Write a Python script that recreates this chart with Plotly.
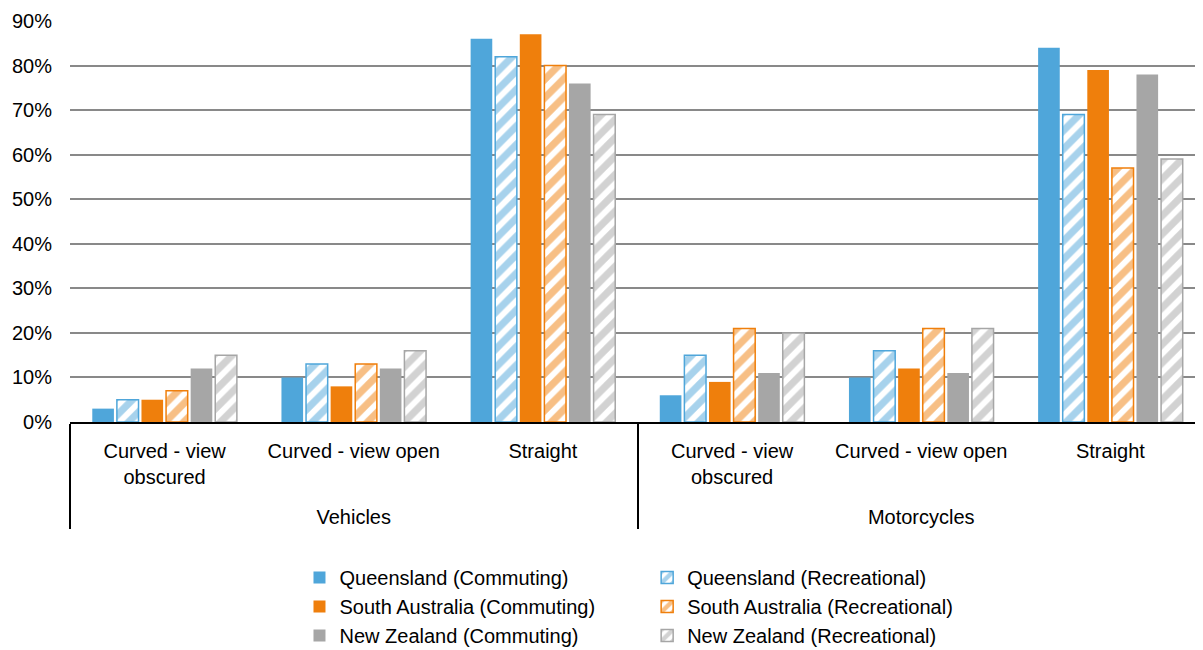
import plotly.graph_objects as go

road_type = ["Vehicles"] * 3 + ["Motorcycles"] * 3
# third line (non-breaking space) keeps the outer labels lower, as in the original
road_shape = ["Curved - view<br>obscured<br>&nbsp;",
              "Curved - view open<br>&nbsp;<br>&nbsp;",
              "Straight<br>&nbsp;<br>&nbsp;"] * 2

series_names = [
    "Queensland (Commuting)", "Queensland (Recreational)",
    "South Australia (Commuting)", "South Australia (Recreational)",
    "New Zealand (Commuting)", "New Zealand (Recreational)",
]
qld_commuting = [0.03, 0.10, 0.86, 0.06, 0.10, 0.84]
qld_recreational = [0.05, 0.13, 0.82, 0.15, 0.16, 0.69]
sa_commuting = [0.05, 0.08, 0.87, 0.09, 0.12, 0.79]
sa_recreational = [0.07, 0.13, 0.80, 0.21, 0.21, 0.57]
nz_commuting = [0.12, 0.12, 0.76, 0.11, 0.11, 0.78]
nz_recreational = [0.15, 0.16, 0.69, 0.20, 0.21, 0.59]

series_values = [qld_commuting, qld_recreational, sa_commuting,
                 sa_recreational, nz_commuting, nz_recreational]
colors = ["#4FA6DA", "#4FA6DA", "#EF7F0C", "#EF7F0C", "#A6A6A6", "#A6A6A6"]
font = dict(family="Liberation Sans, Arial, sans-serif", size=20, color="#000000")

fig = go.Figure()
for i, (name, vals) in enumerate(zip(series_names, series_values)):
    hatched = i % 2 == 1
    if hatched:
        marker = dict(
            color="white",
            line=dict(color=colors[i], width=1.5),
            pattern=dict(shape="/", fgcolor=colors[i], bgcolor="white",
                         size=13, solidity=0.55, fillmode="overlay"),
        )
    else:
        marker = dict(color=colors[i], line=dict(width=0))
    fig.add_trace(go.Bar(
        x=[road_type, road_shape], y=vals, name=name, marker=marker,
        legend="legend2" if hatched else "legend",
    ))

fig.update_layout(
    width=1203, height=650,
    margin=dict(l=62, r=6, t=13, b=236, autoexpand=False),
    paper_bgcolor="white", plot_bgcolor="white",
    font=font,
    barmode="group", bargap=0.22, bargroupgap=0.12,
    legend=dict(x=0.2423, xref="container", y=0.154, yref="container",
                yanchor="top", xanchor="left", font=font, tracegroupgap=5,
                bgcolor="rgba(0,0,0,0)"),
    legend2=dict(x=0.5313, xref="container", y=0.154, yref="container",
                 yanchor="top", xanchor="left", font=font, tracegroupgap=5,
                 bgcolor="rgba(0,0,0,0)"),
)
fig.update_yaxes(
    range=[0, 0.9], dtick=0.1, tickformat=".0%", automargin=False,
    showgrid=True, gridcolor="#898989", gridwidth=1.5,
    zeroline=False, showline=False, ticklabelstandoff=17,
)
fig.update_xaxes(
    automargin=False, tickangle=0, ticklabelstandoff=10,
    showline=True, linecolor="black", linewidth=2,
    showdividers=True, dividercolor="black", dividerwidth=1.5,
    ticks="",
)

fig.write_html("out.html")
